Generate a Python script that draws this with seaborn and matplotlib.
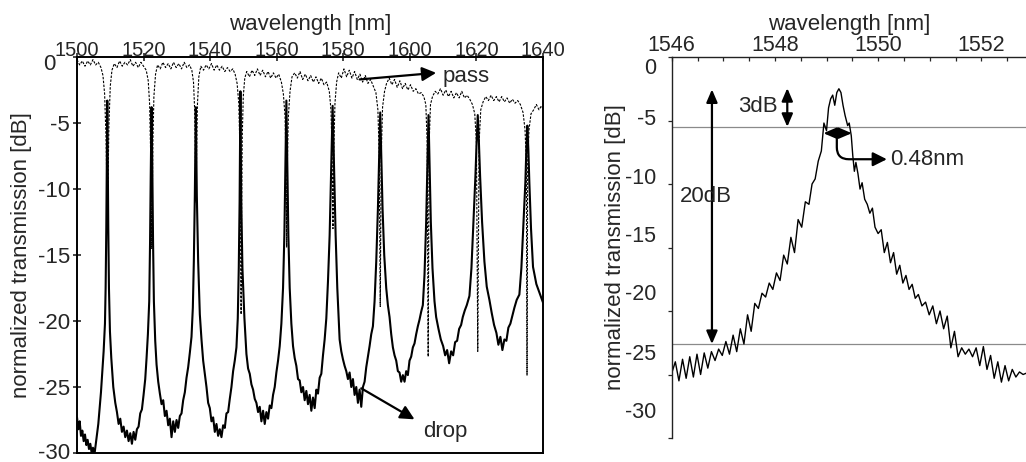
import matplotlib
matplotlib.use("Agg")
import matplotlib.pyplot as plt
import matplotlib.transforms as mtrans
from matplotlib.ticker import MultipleLocator
import seaborn as sns

# ---------------- data ----------------
# left panel: drop port spectrum
drop_wl = [1500.0, 1500.4, 1500.8, 1501.2, 1501.6, 1502.0, 1502.4, 1502.8, 1503.2, 1503.6,
           1504.0, 1504.4, 1504.8, 1505.2, 1505.6, 1506.0, 1506.4, 1506.8, 1507.2, 1507.6,
           1508.0, 1508.4, 1508.6, 1508.8, 1508.95, 1509.1, 1509.25, 1509.4, 1509.6, 1509.9,
           1510.3, 1510.9, 1511.5, 1512.0, 1512.5, 1513.0, 1513.5, 1514.0, 1514.5, 1515.0,
           1515.5, 1516.0, 1516.5, 1517.0, 1517.5, 1518.0, 1518.5, 1519.0, 1519.5, 1520.0,
           1520.5, 1520.9, 1521.3, 1521.7, 1521.95, 1522.15, 1522.4, 1522.65, 1522.85, 1523.1,
           1523.5, 1523.9, 1524.4, 1524.9, 1525.4, 1525.9, 1526.4, 1526.9, 1527.4, 1527.9,
           1528.4, 1528.9, 1529.4, 1529.9, 1530.4, 1530.9, 1531.4, 1531.9, 1532.4, 1532.9,
           1533.4, 1533.9, 1534.4, 1534.8, 1535.1, 1535.4, 1535.55, 1535.7, 1535.85, 1536.0,
           1536.4, 1536.9, 1537.4, 1537.9, 1538.4, 1538.9, 1539.4, 1539.9, 1540.4, 1540.9,
           1541.4, 1541.9, 1542.4, 1542.9, 1543.4, 1543.9, 1544.4, 1544.9, 1545.4, 1545.9,
           1546.4, 1546.9, 1547.4, 1547.9, 1548.3, 1548.6, 1548.85, 1549.0, 1549.1, 1549.2,
           1549.35, 1549.7, 1550.3, 1550.9, 1551.4, 1551.9, 1552.4, 1552.9, 1553.4, 1553.9,
           1554.4, 1554.9, 1555.4, 1555.9, 1556.4, 1556.9, 1557.4, 1557.9, 1558.4, 1558.9,
           1559.4, 1559.9, 1560.4, 1560.9, 1561.4, 1561.9, 1562.3, 1562.6, 1562.9, 1563.2,
           1563.5, 1563.9, 1564.4, 1564.9, 1565.4, 1565.9, 1566.4, 1566.9, 1567.4, 1567.9,
           1568.4, 1568.9, 1569.4, 1569.9, 1570.4, 1570.9, 1571.4, 1571.9, 1572.4, 1572.9,
           1573.4, 1573.9, 1574.4, 1574.9, 1575.4, 1575.9, 1576.3, 1576.55, 1576.8, 1577.05,
           1577.3, 1577.7, 1578.2, 1578.9, 1579.4, 1579.9, 1580.4, 1580.9, 1581.4, 1581.9,
           1582.4, 1582.9, 1583.4, 1583.9, 1584.4, 1584.9, 1585.4, 1585.9, 1586.4, 1586.9,
           1587.4, 1587.9, 1588.4, 1588.9, 1589.4, 1589.9, 1590.4, 1590.75, 1591.1, 1591.45,
           1591.8, 1592.3, 1592.9, 1593.4, 1593.9, 1594.4, 1594.9, 1595.4, 1595.9, 1596.4,
           1596.9, 1597.4, 1597.9, 1598.4, 1598.9, 1599.4, 1599.9, 1600.4, 1600.9, 1601.4,
           1601.9, 1602.4, 1602.9, 1603.4, 1603.9, 1604.4, 1604.9, 1605.25, 1605.6, 1605.95,
           1606.3, 1606.8, 1607.4, 1607.9, 1608.6, 1609.3, 1610.0, 1610.6, 1611.2, 1611.8,
           1612.4, 1613.0, 1613.6, 1614.2, 1614.8, 1615.4, 1615.9, 1616.5, 1617.1, 1617.9,
           1618.5, 1619.1, 1619.7, 1620.05, 1620.4, 1620.75, 1621.1, 1621.7, 1622.4, 1623.1,
           1623.9, 1624.6, 1625.3, 1626.0, 1626.6, 1627.2, 1627.8, 1628.4, 1629.0, 1629.6,
           1630.2, 1630.8, 1631.4, 1632.1, 1632.9, 1633.5, 1634.1, 1634.7, 1635.0, 1635.3,
           1635.6, 1635.9, 1636.4, 1637.0, 1638.0, 1639.0, 1640.0]
drop_db = [-27.3, -28.2, -27.6, -28.7, -28.3, -29.1, -28.6, -29.4, -29.0, -29.7,
           -29.3, -30.0, -29.6, -30.2, -29.4, -28.6, -27.8, -26.6, -25.4, -23.9,
           -22.3, -20.2, -17.5, -13.0, -8.0, -3.3, -8.0, -13.0, -17.5, -20.8,
           -22.8, -25.0, -26.2, -26.9, -27.8, -27.4, -28.4, -28.0, -28.8, -28.3,
           -29.1, -28.5, -29.3, -28.4, -29.0, -28.2, -28.0, -27.0, -26.7, -25.6,
           -24.4, -22.8, -21.0, -18.5, -14.0, -9.0, -3.8, -9.0, -14.0, -18.5,
           -21.5, -23.3, -24.6, -25.5, -26.3, -26.0, -27.2, -26.8, -27.9, -27.4,
           -28.8, -27.6, -28.4, -27.5, -28.1, -27.2, -27.0, -26.0, -25.4, -24.3,
           -23.5, -22.4, -21.2, -19.0, -15.5, -10.5, -7.0, -3.8, -7.0, -10.5,
           -15.5, -19.5, -21.4, -23.0, -24.0, -25.0, -26.2, -26.6, -27.6, -27.3,
           -28.4, -27.8, -28.7, -28.2, -28.8, -27.9, -28.1, -27.0, -26.9, -25.9,
           -25.0, -23.8, -23.0, -22.0, -19.8, -16.0, -11.0, -6.5, -2.6, -6.5,
           -11.0, -16.0, -19.8, -22.5, -23.6, -24.0, -24.8, -25.2, -25.9, -26.2,
           -26.9, -26.5, -27.6, -26.8, -27.8, -26.9, -27.4, -26.4, -26.6, -25.6,
           -25.0, -23.9, -23.0, -21.9, -20.2, -17.5, -13.5, -8.5, -3.3, -8.5,
           -13.5, -17.5, -20.2, -21.9, -22.8, -23.4, -24.4, -24.5, -25.4, -25.0,
           -26.0, -25.3, -26.3, -25.6, -26.8, -25.8, -26.6, -25.2, -25.5, -24.3,
           -24.0, -22.6, -21.4, -19.8, -17.0, -13.5, -9.0, -6.5, -3.7, -6.5,
           -9.0, -13.5, -17.5, -21.4, -22.3, -22.9, -23.4, -23.8, -24.4, -23.9,
           -25.0, -24.4, -25.6, -25.0, -26.2, -25.2, -26.5, -25.0, -24.6, -23.5,
           -22.7, -21.9, -21.0, -20.4, -18.5, -15.5, -11.5, -8.0, -4.2, -8.0,
           -11.5, -15.0, -17.5, -18.8, -19.7, -21.0, -22.0, -22.6, -23.0, -23.8,
           -23.9, -24.6, -24.1, -24.6, -23.8, -24.1, -23.0, -22.7, -22.0, -21.7,
           -21.0, -20.4, -19.9, -19.3, -18.8, -16.5, -12.5, -8.5, -4.4, -8.5,
           -12.5, -16.0, -18.5, -19.7, -20.6, -21.4, -21.9, -22.6, -22.2, -23.2,
           -22.3, -22.6, -21.6, -21.5, -20.6, -20.3, -19.7, -19.2, -18.8, -18.1,
           -16.0, -12.5, -9.0, -6.5, -4.4, -6.5, -9.0, -12.5, -15.5, -17.4,
           -18.4, -19.4, -20.3, -20.9, -21.8, -21.2, -22.2, -21.4, -21.5, -20.5,
           -20.2, -19.6, -19.0, -18.4, -18.0, -16.0, -12.8, -9.5, -7.0, -5.2,
           -7.0, -9.5, -13.0, -15.9, -17.2, -17.9, -18.6]

# left panel: through (pass) port spectrum
pass_wl = [1500.0, 1500.8, 1501.6, 1502.4, 1503.2, 1504.0, 1504.8, 1505.6, 1506.4, 1507.2,
           1507.8, 1508.3, 1508.7, 1508.95, 1509.15, 1509.35, 1509.6, 1510.0, 1510.5, 1511.2,
           1512.0, 1512.8, 1513.6, 1514.4, 1515.2, 1516.0, 1516.8, 1517.6, 1518.4, 1519.2,
           1520.0, 1520.8, 1521.4, 1521.8, 1522.1, 1522.3, 1522.45, 1522.6, 1522.8, 1523.1,
           1523.6, 1524.2, 1525.0, 1525.8, 1526.6, 1527.4, 1528.2, 1529.0, 1529.8, 1530.6,
           1531.4, 1532.2, 1533.0, 1533.8, 1534.5, 1535.0, 1535.35, 1535.55, 1535.75, 1535.95,
           1536.2, 1536.6, 1537.2, 1538.0, 1538.8, 1539.6, 1540.4, 1541.2, 1542.0, 1542.8,
           1543.6, 1544.4, 1545.2, 1546.0, 1546.8, 1547.5, 1548.1, 1548.6, 1548.95, 1549.15,
           1549.3, 1549.45, 1549.65, 1549.95, 1550.4, 1551.0, 1551.8, 1552.6, 1553.4, 1554.2,
           1555.0, 1555.8, 1556.6, 1557.4, 1558.2, 1559.0, 1559.8, 1560.6, 1561.4, 1562.0,
           1562.5, 1562.8, 1563.0, 1563.2, 1563.5, 1564.0, 1564.6, 1565.4, 1566.2, 1567.0,
           1567.8, 1568.6, 1569.4, 1570.2, 1571.0, 1571.8, 1572.6, 1573.4, 1574.2, 1575.0,
           1575.8, 1576.3, 1576.65, 1576.9, 1577.15, 1577.5, 1578.0, 1578.6, 1579.4, 1580.2,
           1581.0, 1581.8, 1582.6, 1583.4, 1584.2, 1585.0, 1585.8, 1586.6, 1587.4, 1588.2,
           1589.0, 1589.8, 1590.4, 1590.8, 1591.1, 1591.4, 1591.8, 1592.4, 1593.0, 1593.8,
           1594.6, 1595.4, 1596.2, 1597.0, 1597.8, 1598.6, 1599.4, 1600.2, 1601.0, 1601.8,
           1602.6, 1603.4, 1604.2, 1604.8, 1605.2, 1605.5, 1605.8, 1606.2, 1606.8, 1607.6,
           1608.4, 1609.2, 1610.0, 1610.8, 1611.6, 1612.4, 1613.2, 1614.0, 1614.8, 1615.6,
           1616.4, 1617.2, 1618.0, 1618.8, 1619.5, 1620.0, 1620.4, 1620.8, 1621.3, 1622.0,
           1622.8, 1623.6, 1624.4, 1625.2, 1626.0, 1626.8, 1627.6, 1628.4, 1629.2, 1630.0,
           1630.8, 1631.6, 1632.4, 1633.2, 1634.0, 1634.6, 1635.0, 1635.2, 1635.4, 1635.8,
           1636.4, 1637.2, 1638.0, 1638.8, 1639.5, 1640.0]
pass_db = [-0.2, -0.6, -0.3, -0.7, -0.3, -0.6, -0.2, -0.6, -0.4, -0.8,
           -1.4, -2.8, -6.0, -9.5, -12.0, -9.0, -5.0, -2.2, -1.0, -0.5,
           -0.8, -0.3, -0.7, -0.4, -0.6, -0.2, -0.7, -0.4, -0.8, -0.4,
           -0.7, -1.0, -1.8, -3.5, -7.0, -11.0, -14.5, -11.0, -6.5, -3.0,
           -1.3, -0.6, -0.9, -0.4, -0.8, -0.5, -0.9, -0.4, -0.8, -0.5,
           -0.9, -0.4, -0.8, -0.6, -1.0, -1.9, -4.0, -7.5, -11.0, -7.0,
           -3.5, -1.5, -0.7, -1.0, -0.6, -0.9, -0.5, -1.0, -0.6, -1.0,
           -0.7, -1.1, -0.8, -1.1, -0.9, -1.3, -2.0, -3.5, -7.0, -12.0,
           -19.5, -12.0, -6.0, -3.0, -1.6, -1.1, -1.5, -1.0, -1.4, -0.9,
           -1.4, -1.0, -1.5, -1.1, -1.6, -1.2, -1.6, -1.3, -1.9, -2.8,
           -4.5, -8.0, -14.4, -8.0, -4.5, -2.6, -1.5, -1.2, -1.6, -1.1,
           -1.7, -1.3, -1.8, -1.4, -1.9, -1.5, -2.0, -1.6, -2.1, -1.9,
           -2.6, -4.0, -7.5, -13.0, -7.0, -3.5, -1.9, -1.2, -1.6, -0.9,
           -1.5, -1.0, -1.6, -1.1, -1.7, -1.3, -1.9, -1.4, -2.0, -1.7,
           -2.2, -2.7, -4.0, -7.5, -18.9, -7.5, -3.8, -2.6, -2.0, -1.6,
           -2.1, -1.7, -2.3, -1.8, -2.4, -2.0, -2.5, -2.1, -2.6, -2.4,
           -2.8, -2.7, -3.0, -3.6, -6.5, -22.7, -6.5, -3.6, -3.0, -2.6,
           -2.8, -2.4, -2.9, -2.5, -3.0, -2.6, -3.1, -2.7, -3.1, -2.6,
           -3.1, -2.9, -3.2, -3.6, -4.3, -6.5, -22.3, -6.5, -4.0, -3.4,
           -3.0, -3.3, -2.9, -3.3, -3.0, -3.4, -3.0, -3.4, -3.1, -3.5,
           -3.2, -3.5, -3.3, -3.6, -4.2, -5.5, -8.0, -24.1, -8.0, -5.5,
           -4.3, -4.0, -3.6, -4.0, -3.7, -3.9]

# right panel: zoom on a single drop resonance
zoom_wl = [1546.00, 1546.07, 1546.14, 1546.21, 1546.28, 1546.35, 1546.42, 1546.49, 1546.56, 1546.63,
           1546.70, 1546.77, 1546.84, 1546.91, 1546.98, 1547.05, 1547.12, 1547.19, 1547.26, 1547.33,
           1547.40, 1547.47, 1547.54, 1547.61, 1547.68, 1547.75, 1547.82, 1547.89, 1547.96, 1548.03,
           1548.10, 1548.17, 1548.24, 1548.31, 1548.38, 1548.45, 1548.52, 1548.59, 1548.66, 1548.72,
           1548.78, 1548.84, 1548.90, 1548.95, 1549.00, 1549.04, 1549.08, 1549.12, 1549.16, 1549.20,
           1549.24, 1549.28, 1549.32, 1549.36, 1549.41, 1549.44, 1549.48, 1549.51, 1549.54, 1549.57,
           1549.61, 1549.65, 1549.69, 1549.74, 1549.79, 1549.84, 1549.89, 1549.94, 1550.00, 1550.06,
           1550.12, 1550.18, 1550.24, 1550.30, 1550.36, 1550.42, 1550.48, 1550.54, 1550.60, 1550.66,
           1550.72, 1550.78, 1550.85, 1550.92, 1550.99, 1551.06, 1551.13, 1551.20, 1551.27, 1551.34,
           1551.41, 1551.48, 1551.55, 1551.62, 1551.69, 1551.76, 1551.83, 1551.90, 1551.97, 1552.04,
           1552.11, 1552.18, 1552.25, 1552.32, 1552.39, 1552.46, 1552.53, 1552.60, 1552.67, 1552.74,
           1552.81, 1552.87]
zoom_db = [-24.9, -24.0, -25.5, -23.8, -25.3, -23.6, -25.2, -23.4, -25.0, -23.3,
           -24.5, -23.2, -23.9, -23.0, -23.5, -22.4, -23.4, -21.9, -23.2, -21.4,
           -22.6, -20.3, -21.6, -19.4, -19.8, -18.6, -18.9, -17.8, -18.3, -17.0,
           -17.6, -15.6, -16.3, -14.2, -15.4, -12.8, -13.4, -11.4, -11.6, -10.0,
           -9.6, -8.2, -7.4, -5.2, -5.8, -4.0, -3.3, -3.0, -3.8, -2.8,
           -2.5, -2.8, -3.8, -4.6, -5.4, -5.2, -6.2, -7.8, -9.0, -8.3,
           -9.2, -10.4, -9.9, -11.2, -11.6, -12.3, -11.9, -13.4, -13.9, -13.6,
           -15.4, -14.6, -16.2, -15.4, -17.1, -16.4, -17.8, -17.2, -18.3, -17.9,
           -19.0, -18.7, -19.6, -19.3, -20.3, -19.6, -21.0, -20.0, -21.4, -20.4,
           -22.9, -21.6, -23.6, -22.9, -23.4, -23.0, -23.6, -22.9, -24.3, -22.8,
           -24.6, -23.5, -25.3, -24.0, -25.6, -24.3, -25.5, -24.6, -25.2, -24.8,
           -25.0, -24.9]

left_xticks = [1500, 1520, 1540, 1560, 1580, 1600, 1620, 1640]
right_xticks = [1546, 1548, 1550, 1552]
yticks = [0, -5, -10, -15, -20, -25, -30]
level_3db = -5.5     # half-maximum line
level_20db = -22.6   # 20 dB below the peak

# ---------------- style ----------------
sns.set_style("ticks")
plt.rcParams["font.family"] = ["Liberation Sans", "DejaVu Sans"]
plt.rcParams["axes.edgecolor"] = "black"
plt.rcParams["axes.unicode_minus"] = False

W, H = 1026, 462
fig = plt.figure(figsize=(W / 100, H / 100), dpi=100)
ax1 = fig.add_axes([77 / W, 9 / H, 466 / W, 396 / H])
ax2 = fig.add_axes([671.7 / W, 24 / H, (W - 671.7) / W, 381 / H])


def shift_labels(labels, px_moves):
    for lbl, (dx, dy) in zip(labels, px_moves):
        lbl.set_transform(lbl.get_transform() +
                          mtrans.ScaledTranslation(dx / 100.0, -dy / 100.0,
                                                   fig.dpi_scale_trans))


# ---------------- left panel ----------------
sns.lineplot(x=drop_wl, y=drop_db, ax=ax1, color="black", lw=1.5,
             estimator=None, sort=False)
sns.lineplot(x=pass_wl, y=pass_db, ax=ax1, color="black", lw=0.8,
             estimator=None, sort=False, linestyle=(0, (2.2, 1.3)))
ax1.set_xlim(1500, 1640)
ax1.set_ylim(-30, 0)
ax1.set_xticks(left_xticks)
ax1.set_yticks(yticks)
ax1.xaxis.tick_top()
ax1.xaxis.set_label_position("top")
ax1.set_xlabel("wavelength [nm]", fontsize=16, labelpad=8)
ax1.set_ylabel("normalized transmission [dB]", fontsize=16, labelpad=4)
ax1.tick_params(axis="x", labelsize=14.5, direction="inout", length=6, width=1.2, pad=-5)
ax1.tick_params(axis="y", labelsize=16, direction="inout", length=6, width=1.2, pad=2)
for s in ax1.spines.values():
    s.set_visible(True)
    s.set_linewidth(1.4)
    s.set_color("black")
shift_labels(ax1.get_yticklabels(),
             [(-15, 5), (0, 0), (0, 0), (0, 0), (0, 0), (0, 0), (0, -2)])

arr = dict(arrowstyle="-|>,head_length=0.7,head_width=0.35", color="black",
           lw=1.6, shrinkA=0, shrinkB=0, mutation_scale=12)
ax1.annotate("", xy=(1607.9, -1.2), xytext=(1584.9, -1.7), arrowprops=arr)
ax1.text(1609.9, -1.45, "pass", fontsize=16, ha="left", va="center")
ax1.annotate("", xy=(1601.4, -27.45), xytext=(1585.4, -25.1), arrowprops=arr)
ax1.text(1603.9, -28.35, "drop", fontsize=16, ha="left", va="center")

# ---------------- right panel ----------------
ax2.axhline(level_3db, color="#8a8a8a", lw=0.9, zorder=1)
ax2.axhline(level_20db, color="#8a8a8a", lw=0.9, zorder=1)
sns.lineplot(x=zoom_wl, y=zoom_db, ax=ax2, color="black", lw=1.0,
             estimator=None, sort=False)
ax2.set_xlim(1546, 1546 + (W - 671.7) / 51.6)
ax2.set_ylim(-30, 0)
ax2.set_xticks(right_xticks)
ax2.xaxis.set_minor_locator(MultipleLocator(0.5))
ax2.set_yticks(yticks)
ax2.xaxis.tick_top()
ax2.xaxis.set_label_position("top")
ax2.set_xlabel("wavelength [nm]", fontsize=16, labelpad=3)
ax2.set_ylabel("normalized transmission [dB]", fontsize=16, labelpad=-1)
ax2.tick_params(axis="x", which="both", labelsize=15.5, direction="in",
                length=3, width=0.9, pad=1)
ax2.tick_params(axis="y", labelsize=15.5, direction="out", length=3, width=0.9, pad=8)
ax2.spines["right"].set_visible(False)
ax2.spines["bottom"].set_visible(False)
ax2.spines["left"].set_linewidth(1.0)
ax2.spines["top"].set_linewidth(1.0)
ax2.spines["left"].set_color("#222222")
ax2.spines["top"].set_color("#222222")
shift_labels(ax2.get_yticklabels(),
             [(0, 8.5), (0, -3.7), (0, -8.2), (0, -13.5), (0, -19), (0, -22.5), (0, -28)])

darr = dict(arrowstyle="<|-|>,head_length=0.7,head_width=0.3", color="black",
            lw=1.6, shrinkA=0, shrinkB=0, mutation_scale=11)
# 20 dB marker
ax2.annotate("", xy=(1546.78, level_20db), xytext=(1546.78, -2.55), arrowprops=darr)
ax2.text(1546.67, -11.0, "20dB", fontsize=16, ha="center", va="center")
# 3 dB marker
ax2.annotate("", xy=(1548.24, level_3db), xytext=(1548.24, -2.45), arrowprops=darr)
ax2.text(1547.67, -3.9, "3dB", fontsize=16, ha="center", va="center")
# FWHM marker
ax2.annotate("", xy=(1549.49, -6.0), xytext=(1548.94, -6.0), arrowprops=darr)
ax2.annotate("", xy=(1550.17, -8.05), xytext=(1549.2, -6.0),
             arrowprops=dict(arrowstyle="-|>,head_length=0.7,head_width=0.35",
                             color="black", lw=1.6, shrinkA=0, shrinkB=0,
                             mutation_scale=12,
                             connectionstyle="angle,angleA=-90,angleB=0,rad=12"))
ax2.text(1550.24, -8.05, "0.48nm", fontsize=16, ha="left", va="center")

fig.savefig("out.png", dpi=100)
